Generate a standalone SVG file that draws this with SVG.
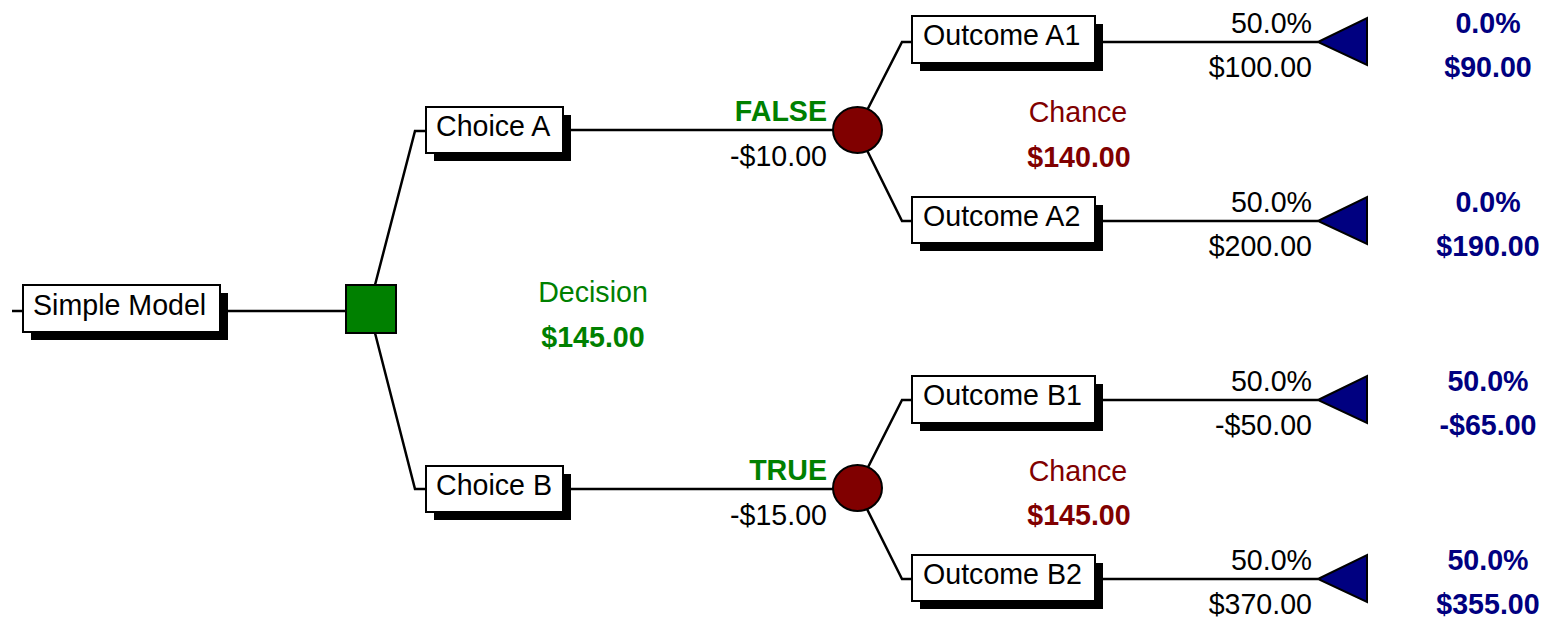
<svg xmlns="http://www.w3.org/2000/svg" width="1549" height="619" viewBox="0 0 1549 619">
<style>
text{font-family:"Liberation Sans",Arial,sans-serif;font-size:28.6px}
.b{font-weight:bold}
.e{text-anchor:end}
.m{text-anchor:middle}
.g{fill:#008000}
.r{fill:#800000}
.n{fill:#000080}
.box{fill:#fff;stroke:#000;stroke-width:2}
.sh{fill:#000}
.ln{stroke:#000;stroke-width:2.5;fill:none}
</style>
<rect width="1549" height="619" fill="#fff"/>
<g id="connectors">
<polyline class="ln" points="12,311 23,311"/>
<polyline class="ln" points="220,311 346,311"/>
<polyline class="ln" points="375,285 415,131 426,131"/>
<polyline class="ln" points="375,333 415,489 426,489"/>
<polyline class="ln" points="563,130 834,130"/>
<polyline class="ln" points="563,489 834,489"/>
<polyline class="ln" points="857,130 902,42 912,42"/>
<polyline class="ln" points="857,130 902,221 912,221"/>
<polyline class="ln" points="857,489 902,400 912,400"/>
<polyline class="ln" points="857,489 902,579 912,579"/>
<polyline class="ln" points="1095,42 1318,42"/>
<polyline class="ln" points="1095,221 1318,221"/>
<polyline class="ln" points="1095,400 1318,400"/>
<polyline class="ln" points="1095,579 1318,579"/>
</g>
<g id="root">
<rect class="sh" x="31" y="293" width="197" height="47"/>
<rect class="box" x="23" y="285" width="197" height="47"/>
<text x="33" y="315">Simple Model</text>
</g>
<g id="decision">
<rect x="346" y="285" width="50" height="48" fill="#008000" stroke="#000" stroke-width="2"/>
<text class="m g" x="593" y="302">Decision</text>
<text class="m g b" x="593" y="347">$145.00</text>
</g>
<g id="choiceA">
<rect class="sh" x="434" y="115" width="137" height="46"/>
<rect class="box" x="426" y="107" width="137" height="46"/>
<text x="436" y="136">Choice A</text>
<text class="e g b" x="827" y="121">FALSE</text>
<text class="e" x="827" y="166">-$10.00</text>
</g>
<g id="choiceB">
<rect class="sh" x="434" y="474" width="137" height="46"/>
<rect class="box" x="426" y="466" width="137" height="46"/>
<text x="436" y="495">Choice B</text>
<text class="e g b" x="827" y="480">TRUE</text>
<text class="e" x="827" y="525">-$15.00</text>
</g>
<g id="chanceA">
<ellipse cx="857.5" cy="130" rx="24.5" ry="23" fill="#800000" stroke="#000" stroke-width="2"/>
<text class="m r" x="1078" y="122">Chance</text>
<text class="m r b" x="1079" y="167">$140.00</text>
</g>
<g id="chanceB">
<ellipse cx="857.5" cy="488" rx="24.5" ry="23" fill="#800000" stroke="#000" stroke-width="2"/>
<text class="m r" x="1078" y="481">Chance</text>
<text class="m r b" x="1079" y="525">$145.00</text>
</g>
<g id="outcomeA1">
<rect class="sh" x="920" y="24" width="183" height="47"/>
<rect class="box" x="912" y="16" width="183" height="47"/>
<text x="923" y="45">Outcome A1</text>
<text class="e" x="1312" y="33">50.0%</text>
<text class="e" x="1312" y="77">$100.00</text>
<polygon points="1318,42 1367,18 1367,65" fill="#000080" stroke="#000" stroke-width="2"/>
<text class="m n b" x="1488" y="33">0.0%</text>
<text class="m n b" x="1488" y="77">$90.00</text>
</g>
<g id="outcomeA2">
<rect class="sh" x="920" y="205" width="183" height="46"/>
<rect class="box" x="912" y="197" width="183" height="46"/>
<text x="923" y="226">Outcome A2</text>
<text class="e" x="1312" y="212">50.0%</text>
<text class="e" x="1312" y="256">$200.00</text>
<polygon points="1318,221 1367,197 1367,244" fill="#000080" stroke="#000" stroke-width="2"/>
<text class="m n b" x="1488" y="212">0.0%</text>
<text class="m n b" x="1488" y="256">$190.00</text>
</g>
<g id="outcomeB1">
<rect class="sh" x="920" y="384" width="183" height="47"/>
<rect class="box" x="912" y="376" width="183" height="47"/>
<text x="923" y="405">Outcome B1</text>
<text class="e" x="1312" y="391">50.0%</text>
<text class="e" x="1312" y="435">-$50.00</text>
<polygon points="1318,400 1367,376 1367,423" fill="#000080" stroke="#000" stroke-width="2"/>
<text class="m n b" x="1488" y="391">50.0%</text>
<text class="m n b" x="1488" y="435">-$65.00</text>
</g>
<g id="outcomeB2">
<rect class="sh" x="920" y="563" width="183" height="46"/>
<rect class="box" x="912" y="555" width="183" height="46"/>
<text x="923" y="584">Outcome B2</text>
<text class="e" x="1312" y="570">50.0%</text>
<text class="e" x="1312" y="614">$370.00</text>
<polygon points="1318,579 1367,555 1367,602" fill="#000080" stroke="#000" stroke-width="2"/>
<text class="m n b" x="1488" y="570">50.0%</text>
<text class="m n b" x="1488" y="614">$355.00</text>
</g>
</svg>
